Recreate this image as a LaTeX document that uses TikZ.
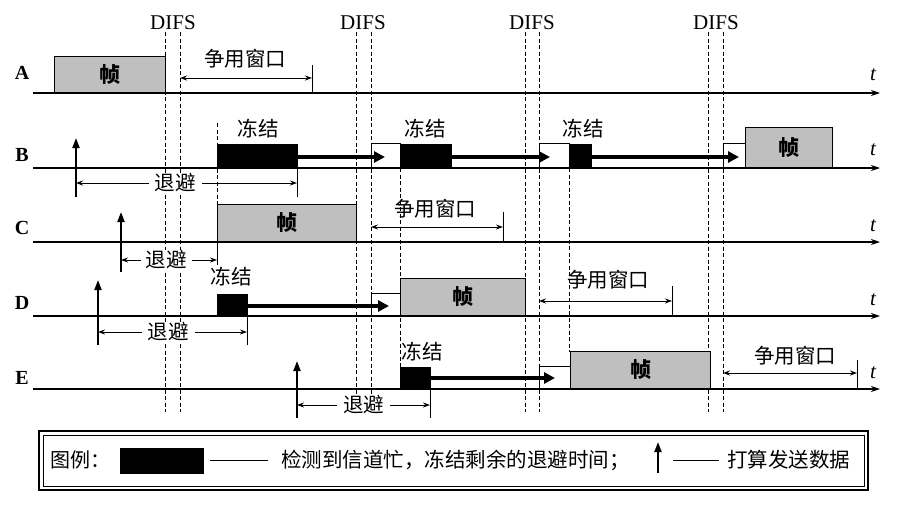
\documentclass[tikz,border=0pt]{standalone}
\usepackage{fontspec}
\setmainfont{Liberation Serif}
\newfontfamily\cjk{Noto Sans CJK SC}
\usetikzlibrary{arrows.meta}
\begin{document}
\begin{tikzpicture}[x=1pt,y=-1pt,
  lbl/.style={font=\bfseries\fontsize{20}{22}\selectfont, inner sep=0pt},
  tlbl/.style={font=\itshape\fontsize{21}{22}\selectfont, inner sep=0pt},
  difs/.style={font=\fontsize{21}{23}\selectfont, inner sep=0pt},
  zh/.style={font=\cjk\fontsize{20.5}{22}\selectfont, inner sep=1pt},
  axis/.style={line width=1.3pt, -{Stealth[length=9pt,width=6pt]}},
  dl/.style={line width=0.9pt, dash pattern=on 4pt off 2.5pt},
  frm/.style={draw, line width=1pt, fill=black!25, anchor=south west, inner sep=0pt, font=\cjk\bfseries\fontsize{21}{22}\selectfont},
  blk/.style={draw, fill=black, anchor=south west, inner sep=0pt},
  wht/.style={draw, line width=0.9pt, fill=white, anchor=south west, inner sep=0pt},
  fz/.style={line width=4pt, -{Triangle[length=11pt,width=11pt]}},
  up/.style={line width=2pt, -{Triangle[length=10pt,width=7pt]}},
  dim/.style={line width=1pt, {Stealth[length=7pt,width=5pt]}-{Stealth[length=7pt,width=5pt]}},
  tick/.style={line width=1pt}
]
\useasboundingbox (0,0) rectangle (903,509);

% DIFS dashed lines
\foreach \x/\n in {165/d1a,180/d1b,356/d2a,371/d2b,525/d3a,539/d3b,708/d4a,723/d4b}{
  \coordinate (\n t) at (\x,32);
  \coordinate (\n b) at (\x,412);
  \draw[dl] (\n t) -- (\n b);
}
\node[difs] (difs1) at (173,23) {DIFS};
\node[difs] (difs2) at (363,23) {DIFS};
\node[difs] (difs3) at (532,23) {DIFS};
\node[difs] (difs4) at (716,23) {DIFS};

% extra dashed lines
\coordinate (x1t) at (217,123); \coordinate (x1b) at (217,205);
\coordinate (x2t) at (400,168); \coordinate (x2b) at (400,367);
\coordinate (x3t) at (569,168); \coordinate (x3b) at (569,352);
\draw[dl] (x1t) -- (x1b);
\draw[dl] (x2t) -- (x2b);
\draw[dl] (x3t) -- (x3b);

% axes
\foreach \n/\y/\ly/\ty in {A/93/73/75,B/168/155/150,C/242/228/226,D/316/303/300,E/389/378/373}{
  \coordinate (ax\n s) at (33,\y);
  \coordinate (ax\n e) at (880,\y);
  \draw[axis] (ax\n s) -- (ax\n e);
  \node[lbl] (lab\n) at (22,\ly) {\n};
  \node[tlbl] (t\n) at (873,\ty) {t};
}

% ---------- A ----------
\node[frm, minimum width=111pt, minimum height=36pt] (fA) at (54,93) {帧};
\coordinate (cwAl) at (180,78); \coordinate (cwAr) at (312,78);
\coordinate (tkAt) at (312,65); \coordinate (tkAb) at (312,93);
\draw[tick] (tkAt) -- (tkAb);
\draw[dim] (cwAl) -- (cwAr);
\node[zh] (cwA) at (245,59) {争用窗口};

% ---------- B ----------
\coordinate (upBb) at (76,197); \coordinate (upBt) at (76,138);
\draw[up] (upBb) -- (upBt);
\node[blk, minimum width=80pt, minimum height=24pt] (bB1) at (217,168) {};
\node[wht, minimum width=29pt, minimum height=24pt] (wB2) at (371,168) {};
\node[blk, minimum width=51pt, minimum height=24pt] (bB2) at (400,168) {};
\node[wht, minimum width=30pt, minimum height=24pt] (wB3) at (539,168) {};
\node[blk, minimum width=22pt, minimum height=24pt] (bB3) at (569,168) {};
\node[wht, minimum width=22pt, minimum height=24pt] (wB4) at (723,168) {};
\node[frm, minimum width=87pt, minimum height=40pt] (fB) at (745,168) {帧};
\node[zh] (zB1) at (258,129) {冻结};
\node[zh] (zB2) at (425,129) {冻结};
\node[zh] (zB3) at (583,129) {冻结};
\coordinate (aB1) at (385,157); \coordinate (aB2) at (550,157); \coordinate (aB3) at (739,157);
\draw[fz] (bB1.east |- aB1) -- (aB1);
\draw[fz] (bB2.east |- aB2) -- (aB2);
\draw[fz] (bB3.east |- aB3) -- (aB3);
\coordinate (boBl) at (76,183); \coordinate (boBr) at (297,183);
\coordinate (tkBt) at (297,168); \coordinate (tkBb) at (297,197);
\draw[tick] (tkBt) -- (tkBb);
\draw[dim] (boBl) -- (boBr) node[zh, pos=0.45, fill=white, inner xsep=6pt] (boB) {退避};

% ---------- C ----------
\coordinate (upCb) at (121,272); \coordinate (upCt) at (121,212);
\draw[up] (upCb) -- (upCt);
\node[frm, minimum width=139pt, minimum height=37pt] (fC) at (217,242) {帧};
\coordinate (tkCt) at (217,242); \coordinate (tkCb) at (217,265);
\draw[tick] (tkCt) -- (tkCb);
\coordinate (boCl) at (121,260); \coordinate (boCr) at (217,260);
\draw[dim] (boCl) -- (boCr) node[zh, pos=0.47, fill=white, inner xsep=5pt] (boC) {退避};
\coordinate (cwCl) at (371,227); \coordinate (cwCr) at (503,227);
\coordinate (tkC2t) at (503,212); \coordinate (tkC2b) at (503,242);
\draw[tick] (tkC2t) -- (tkC2b);
\draw[dim] (cwCl) -- (cwCr);
\node[zh] (cwC) at (435,209) {争用窗口};

% ---------- D ----------
\coordinate (upDb) at (98,345); \coordinate (upDt) at (98,280);
\draw[up] (upDb) -- (upDt);
\node[blk, minimum width=30pt, minimum height=22pt] (bD1) at (217,316) {};
\node[wht, minimum width=29pt, minimum height=22pt] (wD2) at (371,316) {};
\node[frm, minimum width=125pt, minimum height=37pt] (fD) at (400,316) {帧};
\node[zh] (zD1) at (231,277) {冻结};
\coordinate (aD1) at (389,306);
\draw[fz] (bD1.east |- aD1) -- (aD1);
\coordinate (tkDt) at (247,316); \coordinate (tkDb) at (247,345);
\draw[tick] (tkDt) -- (tkDb);
\coordinate (boDl) at (98,332); \coordinate (boDr) at (247,332);
\draw[dim] (boDl) -- (boDr) node[zh, pos=0.47, fill=white, inner xsep=6pt] (boD) {退避};
\coordinate (cwDl) at (539,301); \coordinate (cwDr) at (672,301);
\coordinate (tkD2t) at (672,286); \coordinate (tkD2b) at (672,316);
\draw[tick] (tkD2t) -- (tkD2b);
\draw[dim] (cwDl) -- (cwDr);
\node[zh] (cwD) at (608,280) {争用窗口};

% ---------- E ----------
\coordinate (upEb) at (297,418); \coordinate (upEt) at (297,361);
\draw[up] (upEb) -- (upEt);
\node[blk, minimum width=30pt, minimum height=22pt] (bE1) at (400,389) {};
\node[wht, minimum width=31pt, minimum height=22pt] (wE2) at (539,389) {};
\node[frm, minimum width=140pt, minimum height=37pt] (fE) at (570,389) {帧};
\node[zh] (zE1) at (422,352) {冻结};
\coordinate (aE1) at (555,378);
\draw[fz] (bE1.east |- aE1) -- (aE1);
\coordinate (tkEt) at (430,389); \coordinate (tkEb) at (430,418);
\draw[tick] (tkEt) -- (tkEb);
\coordinate (boEl) at (297,405); \coordinate (boEr) at (430,405);
\draw[dim] (boEl) -- (boEr) node[zh, pos=0.5, fill=white, inner xsep=6pt] (boE) {退避};
\coordinate (cwEl) at (723,373); \coordinate (cwEr) at (857,373);
\coordinate (tkE2t) at (857,360); \coordinate (tkE2b) at (857,389);
\draw[tick] (tkE2t) -- (tkE2b);
\draw[dim] (cwEl) -- (cwEr);
\node[zh] (cwE) at (795,356) {争用窗口};

% ---------- legend ----------
\node[draw, line width=2pt, minimum width=829pt, minimum height=59pt, anchor=north west, inner sep=0pt] (leg) at (38,430) {};
\node[draw, line width=0.8pt, minimum width=821pt, minimum height=51pt, inner sep=0pt] (legin) at (leg.center) {};
\node[zh, font=\cjk\fontsize{20}{22}\selectfont, anchor=west] (lg1) at (49,460) {图例：};
\node[blk, minimum width=83pt, minimum height=25pt] (lgb) at (120,473) {};
\coordinate (ld1a) at (210,460); \coordinate (ld1b) at (268,460);
\draw[line width=1pt] (ld1a) -- (ld1b);
\node[zh, font=\cjk\fontsize{20.5}{22}\selectfont, anchor=west] (lg2) at (280,460) {检测到信道忙，冻结剩余的退避时间；};
\coordinate (lub) at (658,473); \coordinate (lut) at (658,442);
\draw[up] (lub) -- (lut);
\coordinate (ld2a) at (673,460); \coordinate (ld2b) at (719,460);
\draw[line width=1pt] (ld2a) -- (ld2b);
\node[zh, font=\cjk\fontsize{20.5}{22}\selectfont, anchor=west] (lg3) at (726,460) {打算发送数据};
\end{tikzpicture}
\end{document}
